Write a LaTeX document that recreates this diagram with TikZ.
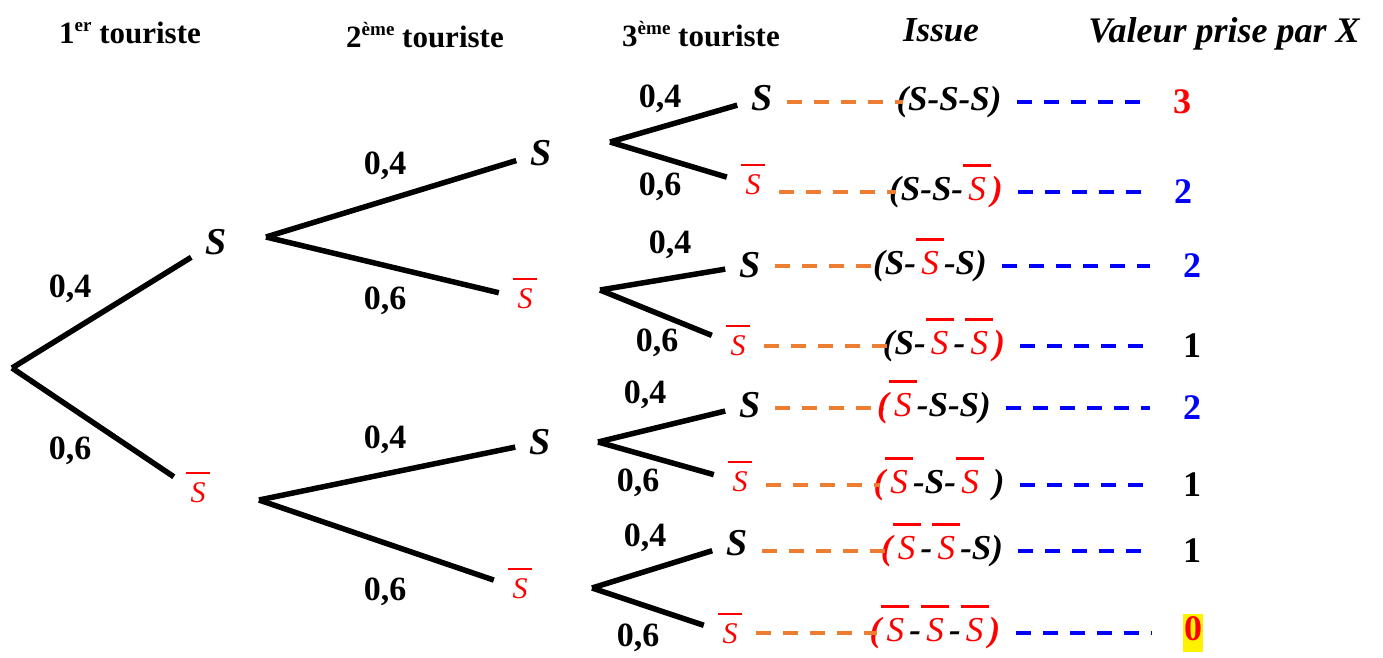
\documentclass[tikz,border=0pt]{standalone}
\usepackage{fontspec}
\setmainfont{Liberation Serif}
\definecolor{orangeline}{RGB}{237,125,49}
\newcommand\fs[1]{\fontsize{#1}{#1}\selectfont}
\newcommand\Sb{{\color{red}\mdseries\itshape\rlap{\smash{\rule[0.95em]{0.8em}{0.09em}}}\makebox[0.8em]{S}}}
\newcommand\rd[1]{{\color{red}#1}}
\newcommand\expo[1]{\raisebox{0.36em}{\fs{19}#1}}
\newcommand\hilite[1]{{\fboxsep=1pt\colorbox{yellow}{\strut#1}}}
\tikzset{
  branch/.style={line width=5.5pt},
  ev/.style={inner xsep=14pt,inner ysep=6pt,font=\fs{38}\bfseries\itshape},
  nev/.style={inner xsep=14pt,inner ysep=6pt,font=\fs{30}},
  prob/.style={font=\fs{34}\bfseries},
  head/.style={anchor=base,font=\fs{31}\bfseries},
  issue/.style={inner sep=0pt,font=\fs{35}\bfseries\itshape},
  val/.style={inner sep=1pt,minimum width=24pt,font=\fs{36}\bfseries},
  tolink/.style={orangeline,line width=4pt,dash pattern=on 15pt off 12pt,shorten >=-7pt},
  tovalue/.style={blue,line width=4pt,dash pattern=on 15pt off 12pt,shorten <=15pt,shorten >=30pt}
}
\begin{document}
\begin{tikzpicture}[x=1pt,y=-1pt]
\useasboundingbox (0,0) rectangle (1383,657);
\node[head] (h1) at (130,43) {1\expo{er} touriste};
\node[head] (h2) at (425,47) {2\expo{ème} touriste};
\node[head] (h3) at (701,46) {3\expo{ème} touriste};
\node[head,font=\fs{35}\bfseries\itshape] (h4) at (941,41) {Issue};
\node[head,font=\fs{36}\bfseries\itshape] (h5) at (1224,42) {Valeur prise par X};

\coordinate (root) at (12,368);
\node[ev] (s) at (216,242) {S};
\node[nev] (n) at (198,493) {\Sb};
\node[ev] (ss) at (541,153) {S};
\node[nev] (sn) at (525,299) {\Sb};
\node[ev] (ns) at (540,442) {S};
\node[nev] (nn) at (520,589) {\Sb};
\node[ev] (sss) at (762,98) {S};
\node[nev] (ssn) at (753,185) {\Sb};
\node[ev] (sns) at (750,265) {S};
\node[nev] (snn) at (738,346) {\Sb};
\node[ev] (nss) at (750,405) {S};
\node[nev] (nsn) at (740,482) {\Sb};
\node[ev] (nns) at (737,543) {S};
\node[nev] (nnn) at (730,634) {\Sb};
\coordinate (s-f) at (266,237);
\coordinate (n-f) at (259,500);
\coordinate (ss-f) at (610,142);
\coordinate (sn-f) at (600,290);
\coordinate (ns-f) at (598,442);
\coordinate (nn-f) at (592,588);

\foreach \p/\c in {root/s,root/n,s-f/ss,s-f/sn,n-f/ns,n-f/nn,ss-f/sss,ss-f/ssn,sn-f/sns,sn-f/snn,ns-f/nss,ns-f/nsn,nn-f/nns,nn-f/nnn}
  \draw[branch] (\p) -- (\c);

\foreach \x/\y/\t [count=\i] in {70/289/{0,4},70/451/{0,6},385/166/{0,4},385/301/{0,6},385/440/{0,4},385/592/{0,6},
  660/99/{0,4},660/187/{0,6},670/245/{0,4},657/343/{0,6},645/395/{0,4},638/483/{0,6},645/538/{0,4},638/638/{0,6}}
  \node[prob] (p\i) at (\x,\y) {\t};

\foreach \lf/\y/\ox/\out/\vx/\v [count=\i] in {
  sss/102/949/{(S-S-S)}/1182/{\color{red}3},
  ssn/192/946/{(S-S-\Sb\rd{)}}/1183/{\color{blue}2},
  sns/266/930/{(S-\Sb-S)}/1192/{\color{blue}2},
  snn/346/944/{(S-\Sb-\Sb\rd{)}}/1192/1,
  nss/408/934/{\rd{(}\Sb-S-S)}/1192/{\color{blue}2},
  nsn/485/939/{\rd{(}\Sb-S-\Sb\ )}/1192/1,
  nns/551/942/{\rd{(}\Sb-\Sb-S)}/1192/1,
  nnn/633/935/{\rd{(}\Sb-\Sb-\Sb\rd{)}}/1193/{\hilite{\color{red}0}}}{
  \node[issue] (o\i) at (\ox,\y) {\out};
  \node[val] (v\i) at (\vx,\y) {\v};
  \draw[tolink] (\lf.east |- o\i.west) -- (o\i.west);
  \draw[tovalue] (o\i) -- (v\i);
}
\end{tikzpicture}
\end{document}
